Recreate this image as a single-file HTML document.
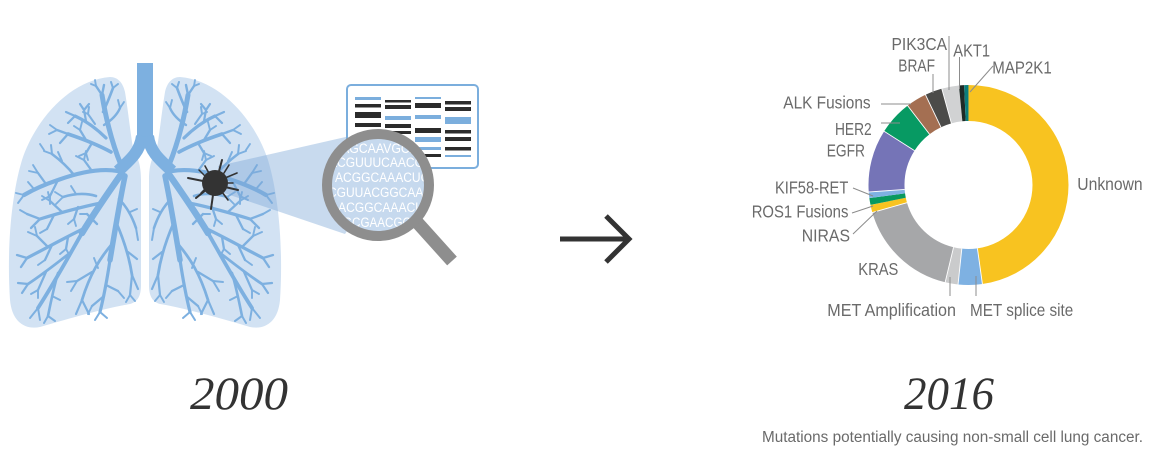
<!DOCTYPE html>
<html>
<head>
<meta charset="utf-8">
<style>
html,body{margin:0;padding:0;background:#fff;}
svg{display:block;}
.lbl{font-family:"Liberation Sans",Arial,sans-serif;font-size:17.5px;fill:#6a6a6a;}
.cap{font-family:"Liberation Sans",Arial,sans-serif;font-size:15.5px;fill:#6a6a6a;}
.seq{font-family:"Liberation Sans",Arial,sans-serif;font-size:13.5px;fill:#fff;}
.yr{font-family:"Liberation Serif","Times New Roman",serif;font-style:italic;font-size:47px;fill:#333;}
</style>
</head>
<body>
<svg width="1176" height="476" viewBox="0 0 1176 476" xmlns="http://www.w3.org/2000/svg">
<defs>
<clipPath id="lensClip"><circle cx="378" cy="185" r="46"/></clipPath>
</defs>

<!-- LUNGS -->
<g id="lungL">
<path d="M110,77 C118,77 123,83 125,92 C128,110 130,130 133,148 C138,158 141,165 141,180 L141,285 C141,297 137,302 130,304 C110,307 70,318 40,327 C25,330 12,322 10,300 C7,255 10,200 22,160 C35,120 70,80 110,77 Z" fill="#D2E2F3"/>
</g>
<use href="#lungL" transform="translate(290 0) scale(-1 1)"/>

<g id="tree" stroke="#7DB0E0" fill="none" stroke-linecap="round" stroke-linejoin="round">
<!-- A upper -->
<path d="M121,165 C114,148 107,125 102,95" stroke-width="5"/>
<path d="M106,138 C98,130 88,122 75,116" stroke-width="3.2"/>
<path d="M75,116 L66,112 M75,116 L68,123 M86,121 L84,110 M84,110 L80,104 M84,110 L89,104" stroke-width="2.2"/>
<path d="M103,112 C107,104 110,96 113,88" stroke-width="2.6"/>
<path d="M113,88 L111,82 M113,88 L118,84" stroke-width="2"/>
<path d="M102,95 L96,86 M102,95 L104,85" stroke-width="2.4"/>
<path d="M96,86 L91,84 M96,86 L95,80" stroke-width="1.9"/>
<path d="M104,125 C112,120 117,115 120,108" stroke-width="2.4"/>
<path d="M120,108 L118,100 M120,108 L124,102" stroke-width="1.9"/>
<path d="M111,152 C100,146 86,140 68,134" stroke-width="3.6"/>
<path d="M68,134 L57,130 M68,134 L60,143 M86,140 L80,130 M92,143 L86,153" stroke-width="2.3"/>
<path d="M80,130 L74,126 M80,130 L82,122 M57,130 L50,125 M57,130 L49,134 M86,153 L79,156 M86,153 L88,160" stroke-width="1.9"/>
<path d="M95,124 L88,114 M88,114 L83,112 M88,114 L89,107" stroke-width="2"/>
<!-- B middle -->
<path d="M118,171 C100,168 80,172 58,180 C46,184 36,188 24,195" stroke-width="4.2"/>
<path d="M74,175 C67,166 60,160 52,154" stroke-width="2.6"/>
<path d="M52,154 L44,151 M52,154 L51,145 M62,161 L58,152" stroke-width="2"/>
<path d="M46,184 L38,173 M58,180 L50,196 M92,171 L84,160" stroke-width="2.3"/>
<path d="M38,173 L33,165 M38,173 L29,171 M24,195 L16,193 M24,195 L18,203 M50,196 L42,200 M50,196 L50,204 M84,160 L76,156 M84,160 L86,151 M34,189 L28,182 M44,150 L40,144" stroke-width="1.9"/>
<!-- C main down-left -->
<path d="M122,173 C110,190 96,210 82,233" stroke-width="6.5"/>
<path d="M82,233 C70,254 56,280 38,308" stroke-width="3.8"/>
<path d="M101,203 C86,206 66,211 40,219" stroke-width="3.2"/>
<path d="M62,212 L50,201 M40,219 L27,214 M40,219 L31,228 M54,215 L47,229 M78,207 L74,219" stroke-width="2.3"/>
<path d="M50,201 L42,196 M50,201 L48,192 M47,229 L40,233 M74,219 L68,224 M74,219 L76,226 M27,214 L20,210" stroke-width="1.9"/>
<path d="M87,227 C70,235 52,245 27,258" stroke-width="3.2"/>
<path d="M48,247 L37,236 M27,258 L17,255 M27,258 L21,267 M52,245 L45,260 M68,237 L66,249" stroke-width="2.3"/>
<path d="M37,236 L28,232 M37,236 L35,227 M45,260 L38,265 M66,249 L60,254 M66,249 L70,256" stroke-width="1.9"/>
<path d="M70,253 C58,262 46,272 28,284" stroke-width="2.8"/>
<path d="M28,284 L18,283 M28,284 L22,293 M46,272 L38,290" stroke-width="2.2"/>
<path d="M38,290 L31,294 M38,290 L38,298" stroke-width="1.9"/>
<path d="M58,273 C54,287 51,301 48,316" stroke-width="2.6"/>
<path d="M48,316 L44,323 M48,316 L55,321 M38,308 L30,318 M38,308 L40,320 M52,296 L60,300" stroke-width="2"/>
<!-- D down -->
<path d="M125,176 C120,200 115,230 110,260" stroke-width="5.5"/>
<path d="M110,260 C107,280 104,296 100,312" stroke-width="3.2"/>
<path d="M116,222 C123,238 129,255 132,275" stroke-width="2.8"/>
<path d="M128,252 L137,259 M132,275 L130,295 M132,275 L138,289" stroke-width="2.2"/>
<path d="M130,295 L126,302 M130,295 L135,301" stroke-width="1.9"/>
<path d="M112,244 C100,258 90,274 82,300" stroke-width="2.8"/>
<path d="M92,272 L77,281 M82,300 L76,314 M82,300 L89,314" stroke-width="2.2"/>
<path d="M77,281 L67,282 M77,281 L71,291 M100,312 L95,320 M100,312 L107,318" stroke-width="2"/>
<path d="M119,199 C127,207 132,216 136,228" stroke-width="2.6"/>
<path d="M136,228 L138,240 M130,212 L137,209" stroke-width="2"/>
<path d="M106,285 L118,291 M104,296 L92,306 M97,224 L87,214" stroke-width="2.3"/>
<path d="M118,291 L124,298 M92,306 L88,314 M87,214 L80,214 M94,258 L98,268" stroke-width="1.9"/>
<!-- E extra -->
<path d="M96,196 C86,193 76,193 63,197" stroke-width="2.6"/>
<path d="M76,194 L71,186 M63,197 L56,204 M63,197 L55,192" stroke-width="1.9"/>
</g>
<use href="#tree" transform="translate(290 0) scale(-1 1)"/>

<!-- trachea and bronchi -->
<g fill="none" stroke="#7DB0E0" stroke-linecap="butt">
<rect x="137" y="63" width="16" height="80" fill="#7DB0E0" stroke="none"/>
<path d="M142,136 C140,152 130,160 118,171" stroke-width="12"/>
<path d="M148,136 C150,152 160,160 172,171" stroke-width="12"/>
</g>

<!-- projection cone -->
<polygon points="218,166 350,136 378,185 345,234 224,193" fill="#7DA7D6" fill-opacity="0.42"/>

<!-- tumor -->
<g stroke="#333" stroke-linecap="round">
<line x1="222" y1="160" x2="218" y2="175" stroke-width="2"/>
<line x1="205" y1="166" x2="210" y2="175" stroke-width="1.6"/>
<line x1="188" y1="178" x2="203" y2="181" stroke-width="2"/>
<line x1="196" y1="198" x2="206" y2="190" stroke-width="2"/>
<line x1="211" y1="209" x2="213" y2="195" stroke-width="2"/>
<line x1="238" y1="190" x2="225" y2="187" stroke-width="2"/>
<line x1="237" y1="173" x2="225" y2="178" stroke-width="1.6"/>
<line x1="228" y1="200" x2="222" y2="192" stroke-width="1.6"/>
<line x1="229" y1="165" x2="224" y2="173" stroke-width="1.6"/>
<line x1="199" y1="170" x2="205" y2="176" stroke-width="1.5"/>
<line x1="233" y1="183" x2="226" y2="183" stroke-width="1.5"/>
<line x1="201" y1="193" x2="206" y2="188" stroke-width="1.5"/>
</g>
<circle cx="215" cy="183" r="13" fill="#333"/>

<!-- data panel -->
<rect x="347" y="85" width="131" height="83" rx="4" fill="#fff" stroke="#7BAEDD" stroke-width="2"/>
<g>
<rect x="355" y="97" width="26" height="3" fill="#7BAEDD"/>
<rect x="355" y="104" width="26" height="3.5" fill="#2b2b2b"/>
<rect x="355" y="112" width="26" height="6" fill="#2b2b2b"/>
<rect x="355" y="123" width="26" height="4" fill="#2b2b2b"/>
<rect x="385" y="100" width="26" height="2.5" fill="#2b2b2b"/>
<rect x="385" y="105" width="26" height="4" fill="#2b2b2b"/>
<rect x="385" y="116" width="26" height="4" fill="#7BAEDD"/>
<rect x="385" y="124" width="26" height="4" fill="#2b2b2b"/>
<rect x="385" y="131" width="26" height="3" fill="#2b2b2b"/>
<rect x="385" y="140" width="26" height="4" fill="#7BAEDD"/>
<rect x="385" y="153" width="26" height="4" fill="#2b2b2b"/>
<rect x="415" y="97" width="26" height="2" fill="#7BAEDD"/>
<rect x="415" y="103" width="26" height="5" fill="#2b2b2b"/>
<rect x="415" y="115" width="26" height="4" fill="#7BAEDD"/>
<rect x="415" y="128" width="26" height="5" fill="#2b2b2b"/>
<rect x="415" y="137" width="26" height="5" fill="#7BAEDD"/>
<rect x="415" y="147" width="26" height="3" fill="#7BAEDD"/>
<rect x="415" y="154" width="26" height="3" fill="#2b2b2b"/>
<rect x="445" y="101" width="26" height="3.5" fill="#2b2b2b"/>
<rect x="445" y="107" width="26" height="4" fill="#2b2b2b"/>
<rect x="445" y="117" width="26" height="7" fill="#7BAEDD"/>
<rect x="445" y="130" width="26" height="3.5" fill="#2b2b2b"/>
<rect x="445" y="137" width="26" height="4" fill="#2b2b2b"/>
<rect x="445" y="147" width="26" height="3.5" fill="#2b2b2b"/>
<rect x="445" y="155" width="26" height="2" fill="#7BAEDD"/>
</g>

<!-- magnifier -->
<line x1="416" y1="221" x2="452" y2="261" stroke="#8E8E8E" stroke-width="13"/>
<circle cx="378" cy="185" r="51" fill="#C6D9EE"/>
<g clip-path="url(#lensClip)">
<text class="seq" x="341" y="153" textLength="77" lengthAdjust="spacingAndGlyphs">AGCAAVGCA</text>
<text class="seq" x="329" y="167" textLength="95" lengthAdjust="spacingAndGlyphs">ACGUUUCAACG</text>
<text class="seq" x="335" y="182" textLength="95" lengthAdjust="spacingAndGlyphs">ACGGCAAACUG</text>
<text class="seq" x="328" y="197" textLength="112" lengthAdjust="spacingAndGlyphs">CGUUACGGCAAAC</text>
<text class="seq" x="338" y="212" textLength="86" lengthAdjust="spacingAndGlyphs">ACGGCAAACU</text>
<text class="seq" x="343" y="227" textLength="77" lengthAdjust="spacingAndGlyphs">GCGAACGGC</text>
</g>
<circle cx="378" cy="185" r="51" fill="none" stroke="#8E8E8E" stroke-width="10"/>

<!-- year 2000 -->
<text class="yr" x="190" y="409" textLength="98" lengthAdjust="spacingAndGlyphs">2000</text>

<!-- arrow -->
<g stroke="#333" stroke-width="5" fill="none">
<line x1="560" y1="239" x2="629" y2="239"/>
<polyline points="606,216 629,239 606,262" stroke-linejoin="miter"/>
</g>

<!-- DONUT -->
<g fill="none" stroke-width="36">
<circle cx="968.5" cy="185" r="82" stroke="#F8C320" stroke-dasharray="246.16 600" transform="rotate(-90 968.5 185)"/>
<circle cx="968.5" cy="185" r="82" stroke="#7EB1E2" stroke-dasharray="20.04 600" transform="rotate(82 968.5 185)"/>
<circle cx="968.5" cy="185" r="82" stroke="#CACBCC" stroke-dasharray="10.73 600" transform="rotate(96 968.5 185)"/>
<circle cx="968.5" cy="185" r="82" stroke="#A6A7A9" stroke-dasharray="86.59 600" transform="rotate(103.5 968.5 185)"/>
<circle cx="968.5" cy="185" r="82" stroke="#F8C320" stroke-dasharray="6.44 600" transform="rotate(164 968.5 185)"/>
<circle cx="968.5" cy="185" r="82" stroke="#08995F" stroke-dasharray="5.72 600" transform="rotate(168.5 968.5 185)"/>
<circle cx="968.5" cy="185" r="82" stroke="#7EB1E2" stroke-dasharray="5.01 600" transform="rotate(172.5 968.5 185)"/>
<circle cx="968.5" cy="185" r="82" stroke="#7574B7" stroke-dasharray="52.24 600" transform="rotate(176 968.5 185)"/>
<circle cx="968.5" cy="185" r="82" stroke="#079A63" stroke-dasharray="28.62 600" transform="rotate(212.5 968.5 185)"/>
<circle cx="968.5" cy="185" r="82" stroke="#A46F52" stroke-dasharray="17.17 600" transform="rotate(232.5 968.5 185)"/>
<circle cx="968.5" cy="185" r="82" stroke="#4B4B49" stroke-dasharray="14.31 600" transform="rotate(244.5 968.5 185)"/>
<circle cx="968.5" cy="185" r="82" stroke="#D1D2D3" stroke-dasharray="14.31 600" transform="rotate(254.5 968.5 185)"/>
<circle cx="968.5" cy="185" r="82" stroke="#1E2B27" stroke-dasharray="4.29 600" transform="rotate(264.5 968.5 185)"/>
<circle cx="968.5" cy="185" r="82" stroke="#0B7D7B" stroke-dasharray="3.58 600" transform="rotate(267.5 968.5 185)"/>
</g>
<g stroke="#fff" stroke-width="0.9">
<line x1="968.5" y1="121" x2="968.5" y2="84" transform="rotate(172 968.5 185)"/>
<line x1="968.5" y1="121" x2="968.5" y2="84" transform="rotate(186 968.5 185)"/>
<line x1="968.5" y1="121" x2="968.5" y2="84" transform="rotate(193.5 968.5 185)"/>
<line x1="968.5" y1="121" x2="968.5" y2="84" transform="rotate(254 968.5 185)"/>
<line x1="968.5" y1="121" x2="968.5" y2="84" transform="rotate(266 968.5 185)"/>
<line x1="968.5" y1="121" x2="968.5" y2="84" transform="rotate(302.5 968.5 185)"/>
<line x1="968.5" y1="121" x2="968.5" y2="84" transform="rotate(322.5 968.5 185)"/>
<line x1="968.5" y1="121" x2="968.5" y2="84" transform="rotate(334.5 968.5 185)"/>
<line x1="968.5" y1="121" x2="968.5" y2="84" transform="rotate(344.5 968.5 185)"/>
</g>

<!-- leader lines -->
<g stroke="#8c8c8c" stroke-width="1" fill="none">
<line x1="949" y1="36" x2="949" y2="90"/>
<line x1="959.5" y1="57" x2="959.5" y2="89"/>
<line x1="993" y1="66" x2="970" y2="92"/>
<line x1="933" y1="74" x2="933" y2="93"/>
<line x1="881" y1="104" x2="911" y2="104"/>
<line x1="881" y1="123" x2="900" y2="123"/>
<line x1="853" y1="188" x2="873" y2="196"/>
<line x1="852" y1="213" x2="873" y2="206"/>
<line x1="853" y1="234" x2="877" y2="211"/>
<line x1="950" y1="277" x2="950" y2="296"/>
<line x1="976" y1="276" x2="976" y2="296"/>
</g>

<!-- labels -->
<text class="lbl" x="891.5" y="50" textLength="55.5" lengthAdjust="spacingAndGlyphs">PIK3CA</text>
<text class="lbl" x="953.3" y="56.5" textLength="36.7" lengthAdjust="spacingAndGlyphs">AKT1</text>
<text class="lbl" x="992.3" y="73.3" textLength="59.4" lengthAdjust="spacingAndGlyphs">MAP2K1</text>
<text class="lbl" x="898.3" y="71.7" textLength="36.7" lengthAdjust="spacingAndGlyphs">BRAF</text>
<text class="lbl" x="783.3" y="108.5" textLength="87.3" lengthAdjust="spacingAndGlyphs">ALK Fusions</text>
<text class="lbl" x="835" y="135" textLength="36.7" lengthAdjust="spacingAndGlyphs">HER2</text>
<text class="lbl" x="826.7" y="156.7" textLength="38.3" lengthAdjust="spacingAndGlyphs">EGFR</text>
<text class="lbl" x="775" y="193.3" textLength="73.3" lengthAdjust="spacingAndGlyphs">KIF58-RET</text>
<text class="lbl" x="751.7" y="217.3" textLength="96.7" lengthAdjust="spacingAndGlyphs">ROS1 Fusions</text>
<text class="lbl" x="801.7" y="241.7" textLength="48.3" lengthAdjust="spacingAndGlyphs">NIRAS</text>
<text class="lbl" x="858.3" y="275" textLength="40" lengthAdjust="spacingAndGlyphs">KRAS</text>
<text class="lbl" x="827.3" y="316" textLength="128.7" lengthAdjust="spacingAndGlyphs">MET Amplification</text>
<text class="lbl" x="970" y="316" textLength="103.3" lengthAdjust="spacingAndGlyphs">MET splice site</text>
<text class="lbl" x="1077.3" y="190" textLength="65.3" lengthAdjust="spacingAndGlyphs">Unknown</text>

<!-- year 2016 -->
<text class="yr" x="904" y="409" textLength="90" lengthAdjust="spacingAndGlyphs">2016</text>
<text class="cap" x="762" y="442" textLength="381" lengthAdjust="spacingAndGlyphs">Mutations potentially causing non-small cell lung cancer.</text>
</svg>
</body>
</html>
